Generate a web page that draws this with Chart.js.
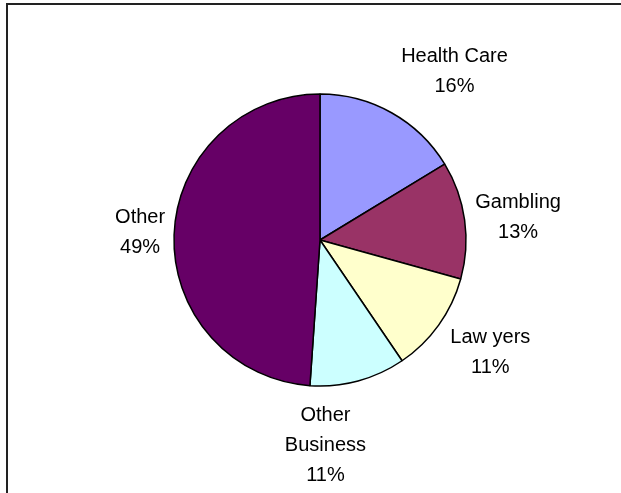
<!DOCTYPE html>
<html>
<head>
<meta charset="utf-8">
<script src="https://cdn.jsdelivr.net/npm/chart.js@4/dist/chart.umd.min.js"></script>
<style>
  html, body { margin: 0; padding: 0; background: #ffffff; }
  canvas { display: block; }
</style>
</head>
<body>
<canvas id="c" width="621" height="493"></canvas>
<script>
// ---- data ----
const categories = ["Health Care", "Gambling", "Law yers", "Other\nBusiness", "Other"];
const shares = [16.3, 13.0, 11.2, 10.6, 48.9];
const sliceColors = ["#9999FF", "#993366", "#FFFFCC", "#CCFFFF", "#660066"];

// ---- layout for labels (not data) ----
const labelGap = 55;
const labelNudges = [[36, 5], [-1, 3], [7, -6], [-47, 10], [21, -2]];

const framePlugin = {
  id: 'frame',
  beforeDraw(chart) {
    const ctx = chart.ctx;
    ctx.save();
    ctx.fillStyle = '#ffffff';
    ctx.fillRect(0, 0, chart.width, chart.height);
    ctx.strokeStyle = '#222222';
    ctx.lineWidth = 2;
    ctx.beginPath();
    ctx.moveTo(7, chart.height);
    ctx.lineTo(7, 4);
    ctx.lineTo(chart.width, 4);
    ctx.stroke();
    ctx.restore();
  }
};

const labelPlugin = {
  id: 'sliceLabels',
  afterDatasetsDraw(chart) {
    const ctx = chart.ctx;
    const meta = chart.getDatasetMeta(0);
    const vals = chart.data.datasets[0].data;
    const total = vals.reduce((a, b) => a + b, 0);
    ctx.save();
    ctx.font = '20px "Liberation Sans", Arial, sans-serif';
    ctx.fillStyle = '#000000';
    ctx.textAlign = 'center';
    ctx.textBaseline = 'alphabetic';
    meta.data.forEach((arc, i) => {
      const p = arc.getProps(['x', 'y', 'startAngle', 'endAngle', 'outerRadius'], true);
      const mid = (p.startAngle + p.endAngle) / 2;
      const r = p.outerRadius + labelGap;
      const cx = p.x + r * Math.cos(mid) + labelNudges[i][0];
      const cy = p.y + r * Math.sin(mid) + labelNudges[i][1];
      const lines = chart.data.labels[i].split('\n');
      lines.push(Math.round(vals[i] / total * 100) + '%');
      const spacing = 30;
      const first = cy - (lines.length - 1) * spacing / 2;
      lines.forEach((t, k) => {
        ctx.fillText(t, cx, first + k * spacing + 7.2);
      });
    });
    ctx.restore();
  }
};

new Chart(document.getElementById('c'), {
  type: 'pie',
  data: {
    labels: categories,
    datasets: [{
      data: shares,
      backgroundColor: sliceColors,
      borderColor: '#000000',
      borderWidth: 1.5
    }]
  },
  options: {
    responsive: false,
    animation: false,
    radius: 146,
    layout: { padding: { left: 174, right: 155, top: 94, bottom: 107 } },
    plugins: {
      legend: { display: false },
      tooltip: { enabled: false }
    }
  },
  plugins: [framePlugin, labelPlugin]
});
</script>
</body>
</html>
